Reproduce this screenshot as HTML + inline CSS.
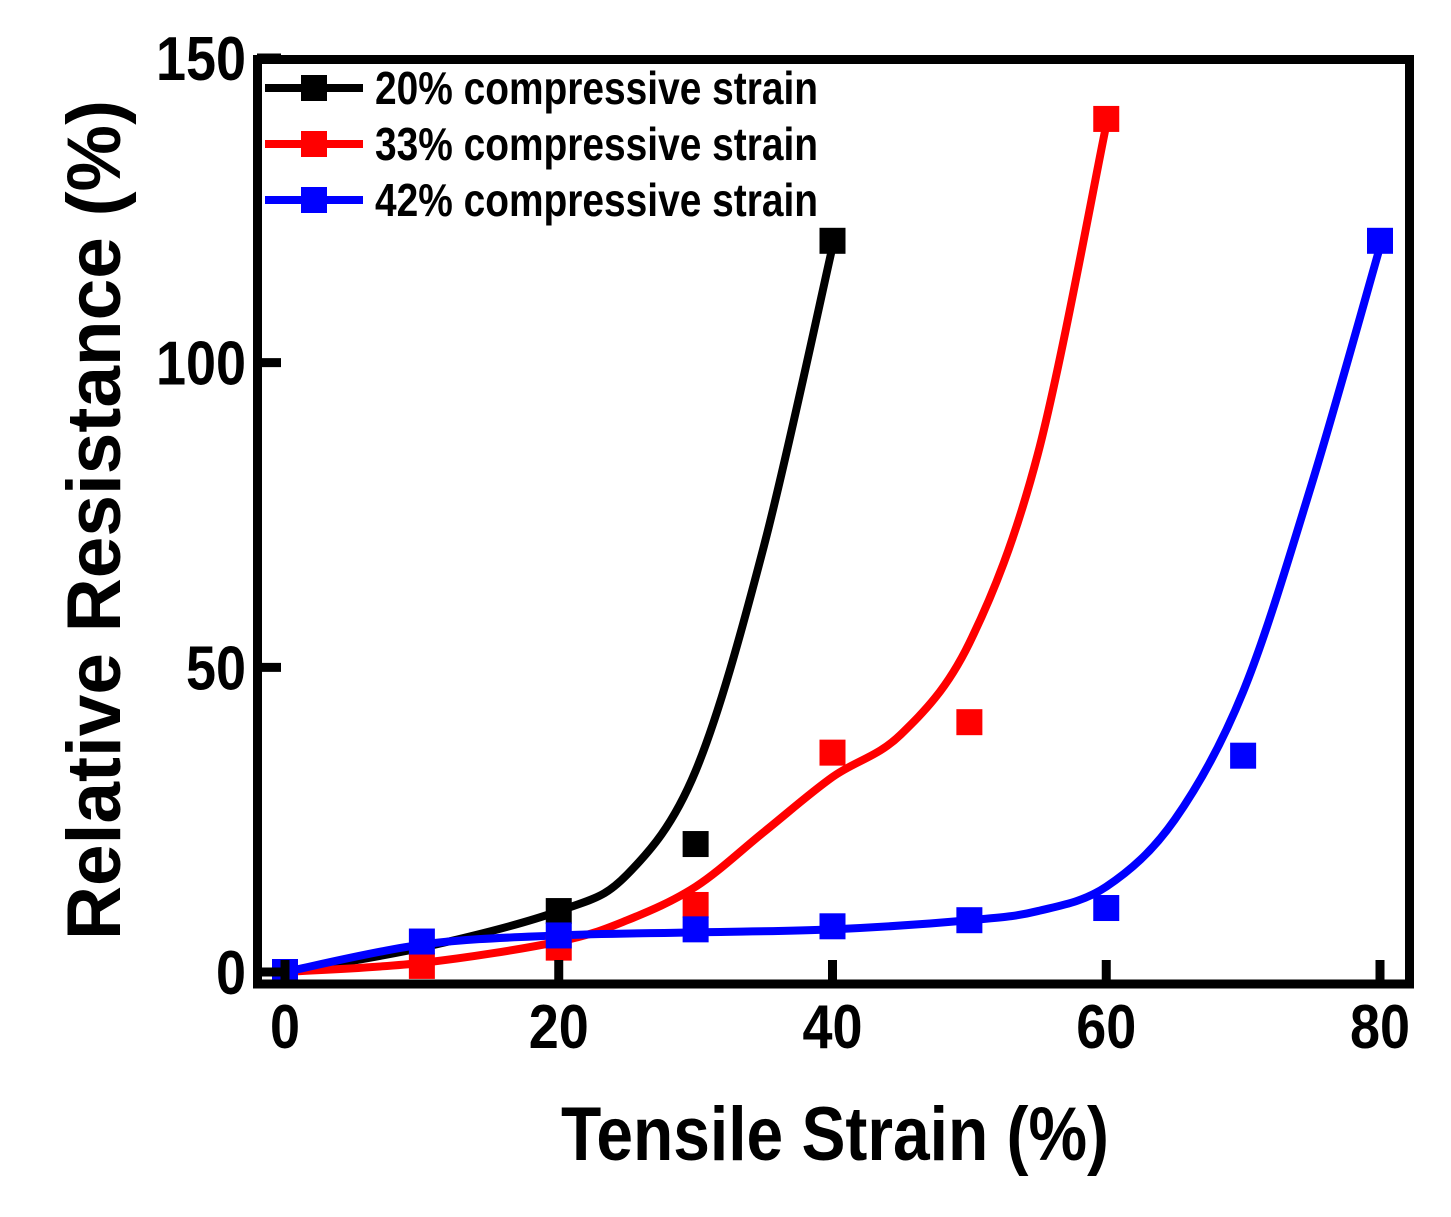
<!DOCTYPE html>
<html><head><meta charset="utf-8"><style>body{margin:0;background:#fff}svg{display:block}text{font-family:"Liberation Sans",Arial,sans-serif;font-weight:bold}</style></head>
<body>
<svg id="chart" width="1451" height="1217" viewBox="0 0 1451 1217" xmlns="http://www.w3.org/2000/svg">
<g id="marks"></g>
<rect x="257.5" y="59.5" width="1152" height="924.5" fill="none" stroke="#000" stroke-width="9"/>
<g id="axes"></g>
<text x="835" y="1160" text-anchor="middle" font-size="76" textLength="548" lengthAdjust="spacingAndGlyphs">Tensile Strain (%)</text>
<text transform="translate(120,520) rotate(-90)" text-anchor="middle" font-size="76" textLength="840" lengthAdjust="spacingAndGlyphs">Relative Resistance (%)</text>
<g id="legend"></g>
</svg>
<script>
const xTicks=[0,20,40,60,80];
const yTicks=[0,50,100,150];
const seriesNames=["20% compressive strain","33% compressive strain","42% compressive strain"];
const seriesColors=["#000","#f00","#00f"];
const blackX=[0,20,30,40];
const blackY=[0,10,21,120];
const redX=[0,10,20,30,40,50,60];
const redY=[0,1,4,11,36,41,140];
const blueX=[0,10,20,30,40,50,60,70,80];
const blueY=[0,5,6,7,7.5,8.5,10.5,35.5,120];
const blackFitX=[0,10,20,25,30,35,40];
const blackFitY=[0,4,10,16,33,70,119];
const redFitX=[0,10,20,25,30,35,40,45,50,55,60];
const redFitY=[0,1.5,5,8.5,14,23,32,39,54,85,139];
const blueFitX=[0,10,20,30,40,50,55,60,65,70,75,80];
const blueFitY=[0,4.5,6,6.5,7,8.5,10,14,25,46,80,119];

const NS="http://www.w3.org/2000/svg";
const X=v=>285+v*(1380-285)/80;
const Y=v=>972-v*(972-58)/150;
function mk(t,a,p){const e=document.createElementNS(NS,t);for(const k in a)e.setAttribute(k,a[k]);p.appendChild(e);return e;}
const axes=document.getElementById('axes'),marks=document.getElementById('marks'),legend=document.getElementById('legend');
xTicks.forEach(v=>{
 const t=mk('line',{x1:X(v),x2:X(v),y1:984,y2:960,stroke:'#000','stroke-width':9},axes);
 
 
 const s=String(v);
 const l=mk('text',{x:X(v),y:1048,'text-anchor':'middle','font-size':62,textLength:s.length*30,lengthAdjust:'spacingAndGlyphs'},axes);l.textContent=s;
 
 
});
yTicks.forEach(v=>{
 const t=mk('line',{x1:257,x2:281,y1:Y(v),y2:Y(v),stroke:'#000','stroke-width':9},axes);
 
 
 const s=String(v);
 const l=mk('text',{x:246,y:Y(v)+22,'text-anchor':'end','font-size':62,textLength:s.length*30,lengthAdjust:'spacingAndGlyphs'},axes);l.textContent=s;
 
 
});
function smooth(xs,ys){
 const p=xs.map((x,i)=>[X(x),Y(ys[i])]);let d='M'+p[0][0]+','+p[0][1];
 for(let i=0;i<p.length-1;i++){const p0=p[i-1]||p[i],p1=p[i],p2=p[i+1],p3=p[i+2]||p2;
  d+=` C${p1[0]+(p2[0]-p0[0])/6},${p1[1]+(p2[1]-p0[1])/6} ${p2[0]-(p3[0]-p1[0])/6},${p2[1]-(p3[1]-p1[1])/6} ${p2[0]},${p2[1]}`;}
 return d;}
const fits=[[blackFitX,blackFitY],[redFitX,redFitY],[blueFitX,blueFitY]];
const pts=[[blackX,blackY],[redX,redY],[blueX,blueY]];
const keys=['black','red','blue'];
for(let s=0;s<3;s++){
 const path=mk('path',{d:smooth(fits[s][0],fits[s][1]),fill:'none',stroke:seriesColors[s],'stroke-width':8},marks);
 
 
}
for(let s=0;s<3;s++){
 pts[s][0].forEach((x,i)=>{
  const r=mk('rect',{x:X(x)-13,y:Y(pts[s][1][i])-13,width:26,height:26,fill:seriesColors[s]},marks);
  
  
 });
 const ly=88+s*56;
 const g=mk('g',{},legend);
 
 
 mk('line',{x1:265,x2:363,y1:ly,y2:ly,stroke:seriesColors[s],'stroke-width':8},g);
 mk('rect',{x:301,y:ly-13,width:26,height:26,fill:seriesColors[s]},g);
 const t=mk('text',{x:375,y:ly+16,'font-size':46,textLength:443,lengthAdjust:'spacingAndGlyphs'},g);t.textContent=seriesNames[s];
}
</script>
</body></html>
